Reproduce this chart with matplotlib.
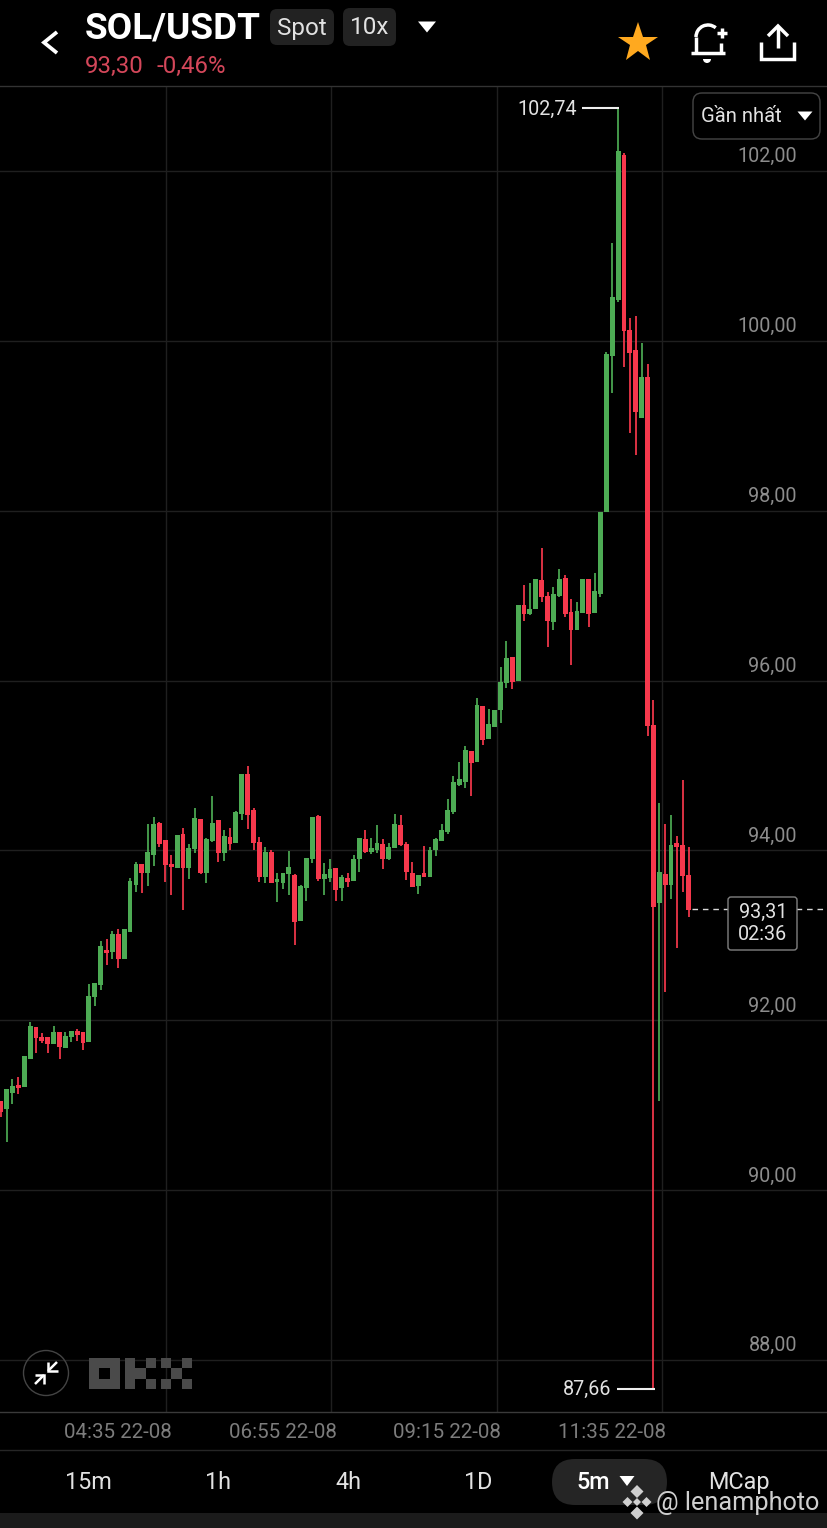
import matplotlib
matplotlib.use("Agg")
import matplotlib.pyplot as plt
from matplotlib.patches import Arc, Circle, FancyBboxPatch, Polygon, Rectangle

plt.rcParams['font.family'] = ['Roboto', 'DejaVu Sans']

opens = [91.05, 90.96, 91.14, 91.24, 91.21, 91.54, 91.92, 91.80, 91.80, 91.72,
         91.86, 91.67, 91.80, 91.87, 91.86, 91.74, 92.27, 92.42, 92.83, 92.80,
         93.02, 92.72, 93.04, 93.59, 93.84, 93.73, 93.95, 94.32, 94.12, 93.84,
         93.79, 94.19, 93.79, 94.02, 94.37, 93.73, 94.11, 94.36, 93.97, 94.16,
         94.09, 94.43, 94.90, 94.48, 94.10, 93.69, 93.98, 93.63, 93.62, 93.72,
         93.71, 93.17, 93.56, 93.90, 94.41, 93.66, 93.68, 93.79, 93.56, 93.68,
         93.64, 93.90, 94.13, 93.98, 94.00, 94.08, 93.90, 94.03, 94.30, 94.08,
         93.73, 93.58, 93.73, 93.69, 94.00, 94.11, 94.22, 94.45, 94.77, 94.81,
         95.17, 95.04, 95.70, 95.31, 95.45, 95.65, 95.97, 96.28, 95.99, 96.89,
         96.78, 96.84, 97.18, 97.00, 96.69, 97.00, 97.21, 96.81, 96.59, 96.80,
         97.20, 96.80, 97.02, 97.99, 99.82, 100.48, 102.19, 100.13, 99.89, 99.09,
         99.58, 95.48, 93.38, 93.72, 93.59, 94.09, 94.06, 93.71]
highs = [91.05, 91.19, 91.31, 91.33, 91.58, 91.98, 91.92, 91.85, 91.80, 91.93,
         91.86, 91.86, 91.87, 91.90, 91.86, 92.43, 92.44, 92.93, 92.96, 93.05,
         93.07, 93.07, 93.68, 93.86, 93.84, 94.31, 94.39, 94.33, 94.12, 93.95,
         94.18, 94.26, 94.08, 94.50, 94.37, 94.15, 94.64, 94.36, 94.24, 94.26,
         94.46, 94.90, 94.99, 94.50, 94.16, 94.04, 94.00, 93.73, 93.73, 93.99,
         93.72, 93.59, 93.91, 94.39, 94.42, 93.85, 93.90, 93.79, 93.71, 93.73,
         93.95, 94.15, 94.24, 94.15, 94.30, 94.13, 94.09, 94.43, 94.42, 94.10,
         93.86, 93.71, 94.05, 94.04, 94.15, 94.31, 94.61, 94.88, 95.04, 95.23,
         95.17, 95.79, 95.70, 95.66, 95.65, 96.16, 96.47, 96.28, 96.89, 97.12,
         97.15, 97.20, 97.56, 97.04, 97.10, 97.31, 97.24, 96.96, 96.92, 97.20,
         97.20, 97.27, 97.98, 99.87, 101.15, 102.74, 102.21, 100.27, 100.29, 99.98,
         99.73, 95.77, 94.56, 94.31, 94.42, 94.17, 94.83, 94.04]
lows = [90.86, 90.57, 91.01, 91.13, 91.21, 91.54, 91.61, 91.73, 91.61, 91.72,
        91.54, 91.67, 91.74, 91.76, 91.65, 91.74, 92.17, 92.36, 92.65, 92.72,
        92.62, 92.72, 93.04, 93.51, 93.50, 93.58, 93.82, 94.04, 93.63, 93.47,
        93.79, 93.30, 93.66, 93.97, 93.72, 93.62, 94.10, 93.86, 93.88, 94.00,
        94.09, 94.36, 94.25, 94.00, 93.63, 93.62, 93.62, 93.39, 93.55, 93.47,
        92.89, 93.17, 93.40, 93.85, 93.64, 93.47, 93.63, 93.40, 93.40, 93.57,
        93.64, 93.75, 93.97, 93.96, 93.97, 93.78, 93.89, 94.03, 94.05, 93.65,
        93.57, 93.49, 93.69, 93.69, 93.93, 94.11, 94.19, 94.43, 94.76, 94.73,
        94.64, 95.04, 95.24, 95.31, 95.45, 95.50, 95.91, 95.90, 95.99, 96.70,
        96.77, 96.84, 96.92, 96.39, 96.59, 96.98, 96.75, 96.18, 96.59, 96.80,
        96.63, 96.80, 96.98, 97.99, 99.38, 100.46, 99.69, 98.92, 98.65, 99.09,
        95.35, 87.66, 91.05, 92.33, 93.43, 92.85, 93.51, 93.22]
closes = [90.92, 91.19, 91.23, 91.20, 91.58, 91.93, 91.79, 91.76, 91.72, 91.86,
          91.68, 91.81, 91.87, 91.83, 91.73, 92.29, 92.44, 92.87, 92.79, 93.02,
          92.72, 93.07, 93.64, 93.84, 93.73, 93.98, 94.31, 94.08, 93.83, 93.80,
          94.18, 93.79, 94.03, 94.38, 93.73, 94.13, 94.32, 93.97, 94.17, 94.08,
          94.45, 94.90, 94.42, 94.09, 93.69, 93.98, 93.62, 93.66, 93.73, 93.80,
          93.16, 93.58, 93.91, 94.39, 93.66, 93.72, 93.78, 93.53, 93.69, 93.63,
          93.90, 94.15, 93.98, 94.03, 94.09, 93.90, 94.04, 94.31, 94.06, 93.75,
          93.57, 93.71, 93.69, 94.00, 94.13, 94.24, 94.48, 94.81, 94.84, 95.18,
          95.03, 95.71, 95.30, 95.49, 95.65, 95.98, 96.27, 95.98, 96.89, 96.78,
          96.84, 97.20, 96.98, 96.70, 97.02, 97.20, 96.78, 96.59, 96.82, 97.20,
          96.78, 97.05, 97.98, 99.84, 100.52, 102.23, 100.11, 99.86, 99.16, 99.58,
          95.47, 93.33, 93.75, 93.59, 94.06, 94.04, 93.70, 93.30]

price_ticks = [88, 90, 92, 94, 96, 98, 100, 102]
time_ticks = [28.06, 56.22, 84.35, 112.52]
time_labels = ["04:35 22-08", "06:55 22-08", "09:15 22-08", "11:35 22-08"]
tabs = ["15m", "1h", "4h", "1D", "5m", "MCap"]
last_price = 93.31
high_price = 102.74
low_price = 87.66

GREEN = "#4dab54"
RED = "#f6384c"
GRID = "#1f1f1f"
GRAY = "#8c8c8c"
LIGHT = "#e2e2e2"

fig = plt.figure(figsize=(8.28, 15.28), dpi=100, facecolor="black")

# chart area, 86..1412 px down the picture
ax = fig.add_axes([0, 1 - 1412 / 1528, 1, (1412 - 86) / 1528])
ax.set_facecolor("black")
px_per_unit = 84.93
ax.set_ylim(88 - 52 / px_per_unit, 88 + 1274 / px_per_unit)
ax.set_xlim(-0.7 / 5.88, 827.3 / 5.88)
for s in ax.spines.values():
    s.set_visible(False)
ax.set_xticks([])
ax.set_yticks([])

for p in price_ticks:
    ax.axhline(p, color=GRID, lw=1, zorder=1)
    ax.annotate(f"{p:.2f}".replace(".", ","), xy=(797 / 828, p),
                xycoords=("axes fraction", "data"), xytext=(0, 10.2),
                textcoords="offset points", ha="right", va="center",
                color=GRAY, fontsize=14.2, zorder=5)
for t in time_ticks:
    ax.axvline(t, color=GRID, lw=1, zorder=1)

idx = list(range(len(opens)))
colors = [GREEN if c >= o else RED for o, c in zip(opens, closes)]
ax.vlines(idx, lows, highs, colors=colors, lw=1.25, zorder=2)
ax.bar(idx, [abs(c - o) for o, c in zip(opens, closes)],
       bottom=[min(o, c) for o, c in zip(opens, closes)],
       width=0.82, color=colors, zorder=3)

# high / low markers
hi_i = highs.index(high_price)
lo_i = lows.index(low_price)
ax.hlines(high_price, hi_i - 6.1, hi_i + 0.2, color="#eeeeee", lw=1.5, zorder=4)
ax.hlines(low_price, lo_i - 6.2, lo_i + 0.2, color="#eeeeee", lw=1.5, zorder=4)
ax.text(hi_i - 7, high_price - 0.012, f"{high_price:.2f}".replace(".", ","), ha="right", va="center",
        color=LIGHT, fontsize=14.2, zorder=5)
ax.text(lo_i - 7.1, low_price - 0.012, f"{low_price:.2f}".replace(".", ","), ha="right", va="center",
        color=LIGHT, fontsize=14.2, zorder=5)

# last price line
ax.plot([idx[-1] + 0.5, 141], [last_price, last_price], color="#d8d8d8", lw=1,
        dashes=(4, 3.5), zorder=4)

# interface drawn in picture pixels
ui = fig.add_axes([0, 0, 1, 1])
ui.set_xlim(0, 828)
ui.set_ylim(1528, 0)
ui.axis("off")
ui.patch.set_alpha(0)


def tri(cx, cy, w, h, color="white"):
    ui.add_patch(Polygon([(cx - w / 2, cy - h / 2), (cx + w / 2, cy - h / 2), (cx, cy + h / 2)],
                         closed=True, color=color, lw=0, zorder=4))


def box(x0, y0, x1, y1, r, face, edge="none", lw=1.0, z=3):
    ui.add_patch(FancyBboxPatch((x0 + r, y0 + r), x1 - x0 - 2 * r, y1 - y0 - 2 * r,
                                boxstyle=f"round,pad={r}", fc=face, ec=edge, lw=lw, zorder=z))


def seg(xs, ys, lw=2.5, color="white"):
    ui.plot(xs, ys, color=color, lw=lw, solid_capstyle="butt", solid_joinstyle="miter")


ui.plot([0, 828], [86, 86], color="#333333", lw=1)
ui.plot([0, 828], [1412, 1412], color="#3a3a3a", lw=1)
ui.plot([0, 828], [1450, 1450], color="#262626", lw=1)
ui.add_patch(Rectangle((0, 1513), 828, 15, color="#1b1b1b", lw=0))

# header
seg([57, 44, 57], [32, 42.5, 53], lw=2.7)
ui.text(85, 28.5, "SOL/USDT", color="white", fontsize=26.6, fontweight="bold", va="center", ha="left")
box(270, 9, 334, 45, 7, "#222222")
box(343, 8, 396, 46, 7, "#222222")
ui.text(302, 28, "Spot", color=LIGHT, fontsize=17.5, ha="center", va="center", zorder=4)
ui.text(369.5, 28, "10x", color=LIGHT, fontsize=17.5, ha="center", va="center", zorder=4)
tri(427, 27, 18, 11)
ui.text(85, 66, "93,30", color="#d4475a", fontsize=17.3, va="center")
ui.text(157, 66, "-0,46%", color="#d4475a", fontsize=17.3, va="center")

ui.plot([638], [43], marker="*", ms=30, color="#ffa91f", mew=0)

seg([691, 725], [53, 53])
seg([696, 696], [53, 37])
seg([721, 721], [43, 53])
ui.add_patch(Arc((708, 37), 24, 24, theta1=180, theta2=310, color="white", lw=2.5))
seg([717, 727], [33, 33])
seg([722, 722], [28, 38])
ui.add_patch(Circle((707, 59), 4, color="white", lw=0))
ui.add_patch(Rectangle((700, 54.5), 14, 4, color="black", lw=0))

seg([761, 761, 794, 794], [42, 59, 59, 42])
seg([778, 778], [27, 48])
seg([768, 778, 788], [36, 26, 36])

box(693, 93, 820, 139, 9, "black", edge="#454545")
ui.text(701, 117, "Gần nhất", color=LIGHT, fontsize=14.5, va="center", ha="left", zorder=4)
tri(805, 116, 15, 9)

# countdown box
box(728, 897, 797, 950, 3, "black", edge="#808080")
ui.text(763, 912, f"{last_price:.2f}".replace(".", ","), color=LIGHT, fontsize=14.2, ha="center", va="center", zorder=4)
ui.text(763, 935, "02:36", color=LIGHT, fontsize=14.2, ha="center", va="center", zorder=4)

# collapse button
ui.add_patch(Circle((46, 1373), 22.5, fc="none", ec="#444444", lw=1))
seg([57, 48], [1362, 1371], lw=1.8)
seg([48, 48, 58], [1362, 1371, 1371], lw=1.8)
seg([35, 44], [1384, 1375], lw=1.8)
seg([35, 44, 44], [1375, 1375, 1384], lw=1.8)

# OKX mark
LOGO = "#4a4a4a"
for x0, y0, w, h in [(89, 1358, 31, 10), (89, 1379, 31, 10), (89, 1358, 10, 31), (110, 1358, 10, 31),
                     (125, 1358, 10.5, 31), (135.5, 1368, 10.5, 11), (146, 1358, 10, 10), (146, 1379, 10, 10),
                     (161, 1358, 10, 10), (161, 1379, 10, 10), (171, 1368, 11, 11),
                     (182, 1358, 10, 10), (182, 1379, 10, 10)]:
    ui.add_patch(Rectangle((x0, y0), w, h, color=LOGO, lw=0))

# time axis
for x, label in zip([118, 283, 447, 612], time_labels):
    ui.text(x, 1432, label, color="#7c7c7c", fontsize=14.8, ha="center", va="center")

# tabs
box(552, 1459, 667, 1505, 23, "#252525")
for x, label in zip([88, 218, 348, 478, 593, 739], tabs):
    ui.text(x, 1482.5, label, color=LIGHT if label != "5m" else "white", fontsize=16.8,
            ha="center", va="center", zorder=4,
            fontweight="medium" if label == "5m" else "normal")
tri(627, 1481, 15, 10)

# watermark
WM = "#cfcfcf"
for cx, cy, r in [(637, 1491.5, 6.5), (637, 1513, 6.5), (627.5, 1502, 5), (646.5, 1502, 5), (637, 1502, 4)]:
    ui.add_patch(Polygon([(cx - r, cy), (cx, cy - r), (cx + r, cy), (cx, cy + r)], closed=True, color=WM, lw=0, zorder=5))
ui.text(656, 1503, "@ lenamphoto", color=WM, fontsize=18.2, va="center", ha="left", zorder=5)

fig.savefig("out.png", dpi=100, facecolor="black")
